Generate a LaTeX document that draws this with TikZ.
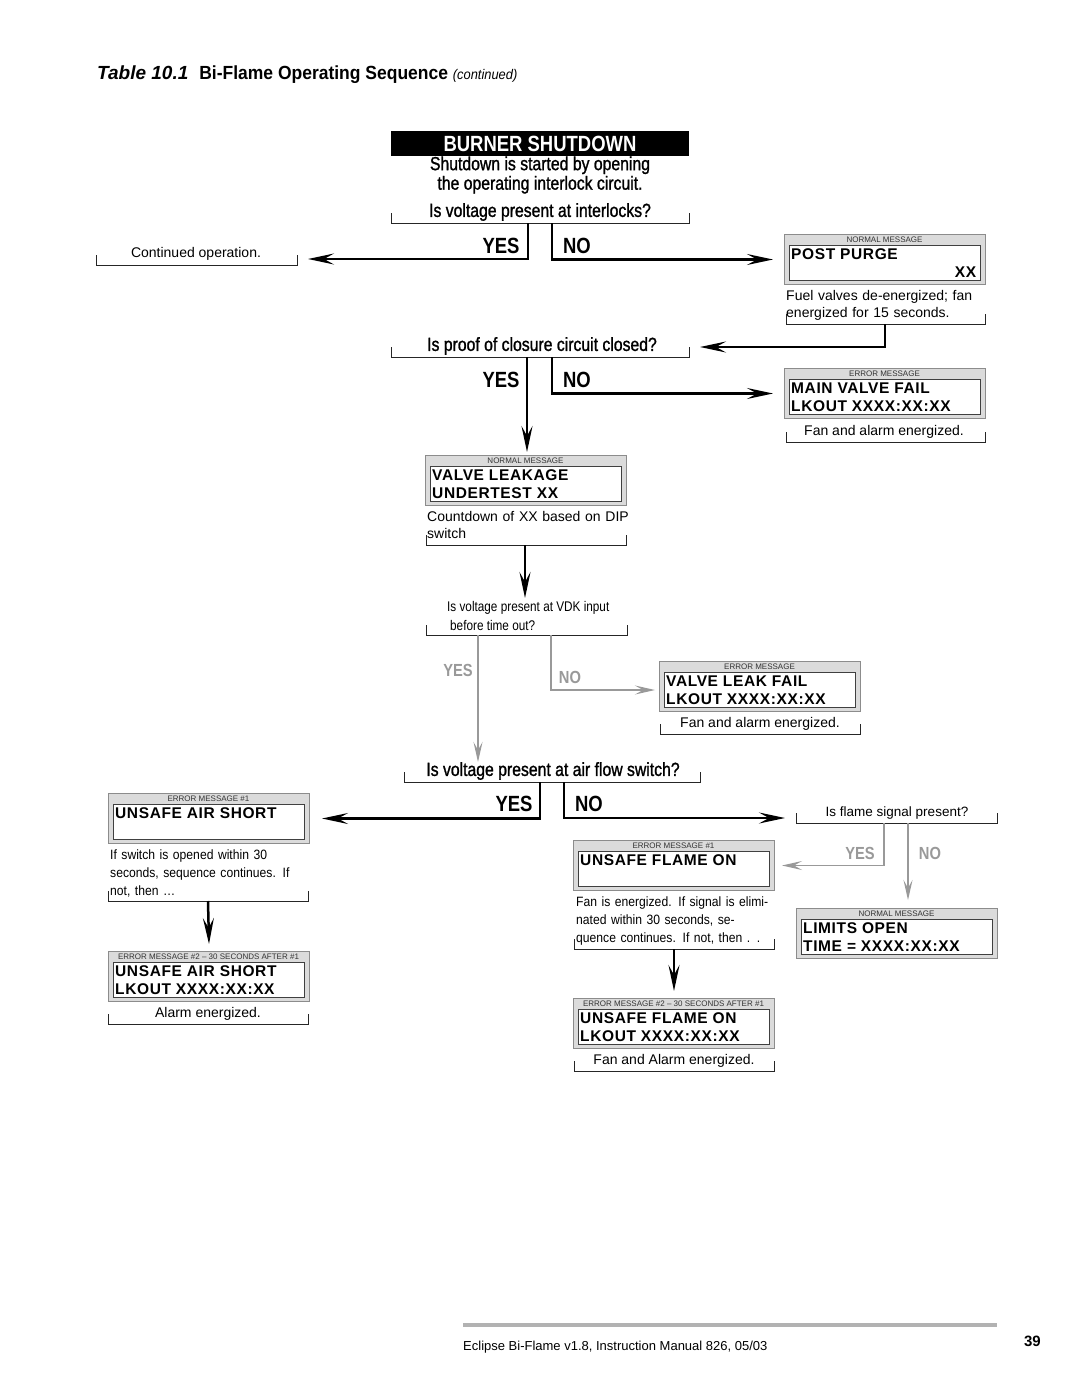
\documentclass[tikz,border=0pt]{standalone}
\usepackage{fontspec}
\setmainfont{Liberation Sans}
\newfontfamily\condfont[FakeStretch=0.84]{Liberation Sans}
\newfontfamily\askfont[FakeStretch=0.83, FakeBold=1.2]{Liberation Sans}
\newfontfamily\notecond[FakeStretch=0.9]{Liberation Sans}
\newfontfamily\titlefont[FakeStretch=0.92]{Liberation Sans}
\newfontfamily\lcdfont[LetterSpace=4]{Liberation Sans}
\usetikzlibrary{arrows.meta}

\definecolor{flowgray}{gray}{0.6}
\definecolor{framegray}{gray}{0.55}
\definecolor{panelgray}{gray}{0.86}

\tikzset{
    flow/.style = {line width = 2.5pt, -{Stealth[length = 26pt, width = 11pt, inset = 10pt]}},
    thinflow/.style = {line width = 1.4pt, draw = flowgray, -{Stealth[length = 20pt, width = 9pt, inset = 8pt]}},
    bracket/.style = {line width = .9pt, draw = black!85},
    header/.style = {fill = black, text = white, inner sep = 0, minimum width = 298pt, minimum height = 25pt,
        font = \condfont\bfseries\fontsize{22}{22}\selectfont},
    question/.style = {inner sep = 0, font = \askfont\fontsize{19}{19.5}\selectfont},
    smallquestion/.style = {inner sep = 0, font = \condfont\fontsize{14}{19}\selectfont},
    answer/.style = {inner sep = 0, font = \condfont\bfseries\fontsize{22}{22}\selectfont},
    grayanswer/.style = {inner sep = 0, text = flowgray, font = \condfont\bfseries\fontsize{17.5}{17.5}\selectfont},
    note/.style = {inner sep = 0, font = \fontsize{14}{17.5}\selectfont},
    condnote/.style = {inner sep = 0, font = \notecond\fontsize{13.5}{17.8}\selectfont},
    msgframe/.style = {draw = framegray, line width = 1pt, fill = panelgray, anchor = north west, inner sep = 0,
        minimum width = 201pt, minimum height = 50pt},
    msgscreen/.style = {draw = black!75, line width = .9pt, fill = white, anchor = north west, inner sep = 0,
        minimum width = 191pt, minimum height = 35pt},
    msglabel/.style = {inner sep = 0, text = black!80, font = \fontsize{8}{8}\selectfont},
    msgline/.style = {inner sep = 0, anchor = west, font = \lcdfont\bfseries\fontsize{15.5}{15.5}\selectfont}
}

% message panel: name, left, top, caption, first line, second line
\newcommand{\msgbox}[6]{%
    \node [msgframe] (#1) at (#2, #3) {};
    \node [msgscreen] (#1-screen) at (#2 + 5, #3 + 11) {};
    \node [msglabel] (#1-label) at (#2 + 100.5, #3 + 6) {#4};
    \node [msgline] (#1-top) at (#2 + 7, #3 + 20) {#5};
    \node [msgline] (#1-bottom) at (#2 + 7, #3 + 38) {#6};
}
% open bracket under a text: left, right, y
\newcommand{\textbracket}[3]{%
    \draw [bracket] (#1, #3 - 10) |- (#2, #3) -- (#2, #3 - 10);
}
\newcommand{\jline}[1]{\makebox[196pt][s]{#1}}

\begin{document}
\begin{tikzpicture}[x = 1pt, y = -1pt]
    \fill [white] (0, 0) rectangle (1080, 1397);
    \useasboundingbox (0, 0) rectangle (1080, 1397);

    \node [anchor = base west, inner sep = 0] (title) at (97, 80)
        {\fontsize{19}{19}\selectfont\bfseries\itshape Table 10.1\hspace{11pt}\titlefont\upshape Bi-Flame Operating Sequence
         \mdseries\itshape\fontsize{14}{14}\selectfont (continued)};

    % start of the shutdown
    \node [header] (shutdown) at (540, 143.5) {BURNER SHUTDOWN};
    \node [question, align = center] (intro) at (540, 175)
        {Shutdown is started by opening\\the operating interlock circuit.};

    \node [question] (q1) at (540, 212) {Is voltage present at interlocks?};
    \textbracket{391}{689}{223}
    \coordinate (q1yes) at (528, 223);
    \coordinate (q1no) at (552, 223);
    \node [answer] (q1y) at (501, 246) {YES};
    \node [answer] (q1n) at (577, 246) {NO};

    \node [note] (cont) at (196, 254) {Continued operation.};
    \textbracket{96}{297}{265}
    \coordinate (cont-in) at (308, 259);
    \draw [flow] (q1yes) |- (cont-in);

    \msgbox{purge}{784}{234}{NORMAL MESSAGE}{POST PURGE}{\makebox[185pt][r]{XX}}
    \draw [flow] (q1no) |- ([xshift = -11pt]purge.west);
    \node [note, text width = 198pt, align = left, anchor = north west] (purge-note) at (786, 290)
        {\makebox[198pt][s]{Fuel valves de-energized; fan}\\energized for 15 seconds.};
    \textbracket{786}{985}{324}
    \coordinate (purge-out) at (885, 324);

    % proof of closure
    \node [question] (q2) at (542, 346) {Is proof of closure circuit closed?};
    \coordinate (q2-in) at (700, 347);
    \draw [flow] (purge-out) |- (q2-in);
    \textbracket{391}{689}{357}
    \coordinate (q2yes) at (527, 357);
    \coordinate (q2no) at (552, 357);
    \node [answer] (q2y) at (501, 380) {YES};
    \node [answer] (q2n) at (577, 380) {NO};

    \msgbox{mainvalve}{784}{368}{ERROR MESSAGE}{MAIN VALVE FAIL}{LKOUT XXXX:XX:XX}
    \draw [flow] (q2no) |- ([xshift = -11pt]mainvalve.west);
    \node [note] (mainvalve-note) at (884, 432) {Fan and alarm energized.};
    \textbracket{786}{985}{442}

    \msgbox{leakage}{425}{455}{NORMAL MESSAGE}{VALVE LEAKAGE}{UNDERTEST XX}
    \draw [flow] (q2yes) -- ([yshift = 3pt]leakage.north -| q2yes);
    \node [note, text width = 220pt, align = left, anchor = north west] (leakage-note) at (427, 511)
        {Countdown of XX based on DIP\\switch};
    \textbracket{426}{626}{545}
    \coordinate (leakage-out) at (525, 545);

    % VDK input
    \node [smallquestion, align = left, anchor = north west] (q3) at (447, 601)
        {Is voltage present at VDK input\\\hspace*{3pt}before time out?};
    \coordinate (q3-in) at (525, 598);
    \draw [flow] (leakage-out) -- (q3-in);
    \textbracket{426}{627}{635}
    \coordinate (q3yes) at (478, 635);
    \coordinate (q3no) at (551, 635);
    \node [grayanswer] (q3y) at (458, 670) {YES};
    \node [grayanswer] (q3n) at (570, 677) {NO};

    \msgbox{leakfail}{659}{661}{ERROR MESSAGE}{VALVE LEAK FAIL}{LKOUT XXXX:XX:XX}
    \coordinate (leakfail-in) at (655, 690);
    \draw [thinflow] (q3no) |- (leakfail-in);
    \node [note] (leakfail-note) at (760, 724) {Fan and alarm energized.};
    \textbracket{660}{860}{734}

    % air flow switch
    \node [question] (q4) at (553, 771) {Is voltage present at air flow switch?};
    \coordinate (q4-in) at (478, 762);
    \draw [thinflow] (q3yes) -- (q4-in);
    \textbracket{404}{700}{782}
    \coordinate (q4yes) at (540, 782);
    \coordinate (q4no) at (564, 782);
    \node [answer] (q4y) at (514, 804) {YES};
    \node [answer] (q4n) at (589, 804) {NO};

    \msgbox{airshort}{108}{793}{ERROR MESSAGE \#1}{UNSAFE AIR SHORT}{}
    \draw [flow] (q4yes) |- ([xshift = 12pt]airshort.east);
    \node [condnote, text width = 196pt, align = left, anchor = north west] (airshort-note) at (110, 850)
        {\jline{If switch is opened within 30}\\\jline{seconds, sequence continues. If}\\not, then \dots};
    \textbracket{108}{308}{901}
    \coordinate (airshort-out) at (208, 901);

    \msgbox{airlock}{108}{951}{ERROR MESSAGE \#2 -- 30 SECONDS AFTER \#1}{UNSAFE AIR SHORT}{LKOUT XXXX:XX:XX}
    \draw [flow] (airshort-out) -- ([yshift = 7pt]airlock.north);
    \node [note] (airlock-note) at (208, 1014) {Alarm energized.};
    \textbracket{108}{308}{1024}

    % flame signal
    \node [note, font = \fontsize{13.5}{13.5}\selectfont] (q5) at (897, 813) {Is flame signal present?};
    \coordinate (q5-in) at (785, 818);
    \draw [flow] (q4no) |- (q5-in);
    \textbracket{796}{997}{823}
    \coordinate (q5yes) at (884, 823);
    \coordinate (q5no) at (908, 823);
    \node [grayanswer] (q5y) at (860, 853) {YES};
    \node [grayanswer] (q5n) at (930, 853) {NO};

    \msgbox{flameon}{573}{840}{ERROR MESSAGE \#1}{UNSAFE FLAME ON}{}
    \draw [thinflow] (q5yes) |- ([xshift = 7pt]flameon.east);
    \node [condnote, text width = 196pt, align = left, anchor = north west] (flameon-note) at (576, 897)
        {\jline{Fan is energized. If signal is elimi-}\\\jline{nated within 30 seconds, se-}\\\jline{quence continues. If not, then . .}};
    \textbracket{574}{774}{949}
    \coordinate (flameon-out) at (674, 949);

    \msgbox{limits}{796}{908}{NORMAL MESSAGE}{LIMITS OPEN}{TIME = XXXX:XX:XX}
    \draw [thinflow] (q5no) -- ([yshift = 8pt]limits.north -| q5no);

    \msgbox{flamelock}{573}{998}{ERROR MESSAGE \#2 -- 30 SECONDS AFTER \#1}{UNSAFE FLAME ON}{LKOUT XXXX:XX:XX}
    \draw [flow] (flameon-out) -- ([yshift = 7pt]flamelock.north);
    \node [note] (flamelock-note) at (674, 1061) {Fan and Alarm energized.};
    \textbracket{574}{774}{1071}

    % page foot
    \draw [line width = 4pt, draw = black!30] (463, 1325) -- (997, 1325);
    \node [anchor = base west, inner sep = 0, font = \fontsize{13}{13}\selectfont] (foot) at (463, 1350)
        {Eclipse Bi-Flame v1.8, Instruction Manual 826, 05/03};
    \node [anchor = base east, inner sep = 0, font = \bfseries\fontsize{15}{15}\selectfont] (page) at (1041, 1346) {39};

\end{tikzpicture}
\end{document}
